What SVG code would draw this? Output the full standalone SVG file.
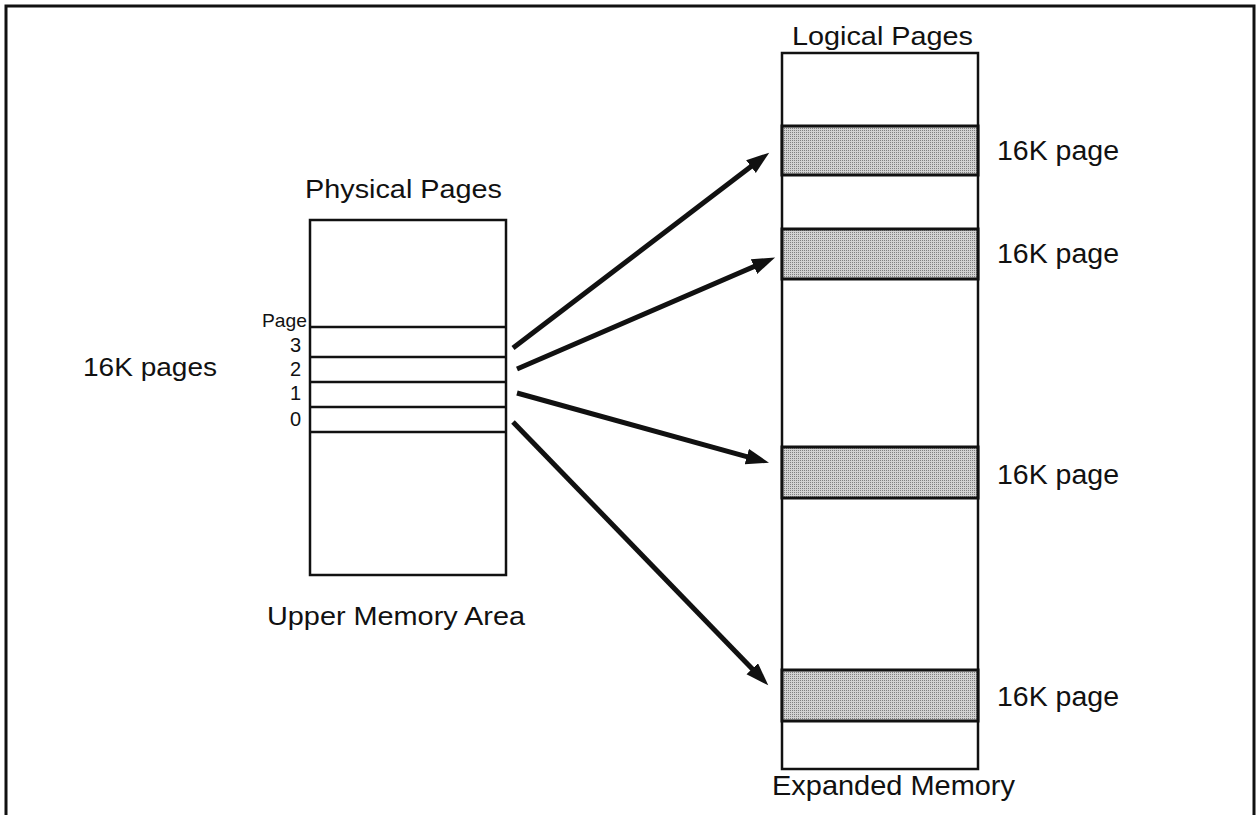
<svg xmlns="http://www.w3.org/2000/svg" width="1259" height="815" viewBox="0 0 1259 815">
<style>
.t{font-family:"Liberation Sans",Arial,sans-serif;fill:#111}
.ln{stroke:#111;stroke-width:2.5;fill:none}
.frame{stroke:#111;stroke-width:3;fill:none}
.box{stroke:#111;stroke-width:2.5;fill:#fff}
.band{stroke:#111;stroke-width:3;fill:url(#stip)}
.arr{stroke:#111;stroke-width:5;fill:none;marker-end:url(#ah)}
</style>
<defs>
<pattern id="stip" width="2" height="2" patternUnits="userSpaceOnUse">
<rect width="2" height="2" fill="#d2d2d2"/>
<rect width="1" height="1" fill="#808080"/>
</pattern>
<marker id="ah" markerUnits="userSpaceOnUse" markerWidth="24" markerHeight="18" refX="12" refY="8" orient="auto">
<path d="M0,0 L23,8 L0,16 z" fill="#111"/>
</marker>
</defs>
<rect width="1259" height="815" fill="#fff"/>
<rect x="6" y="6" width="1248" height="830" class="frame"/>

<g id="physical">
<rect x="310" y="220" width="196" height="355" class="box"/>
<line x1="310" y1="327" x2="506" y2="327" class="ln"/>
<line x1="310" y1="357" x2="506" y2="357" class="ln"/>
<line x1="310" y1="382" x2="506" y2="382" class="ln"/>
<line x1="310" y1="407" x2="506" y2="407" class="ln"/>
<line x1="310" y1="432" x2="506" y2="432" class="ln"/>
<text class="t" x="305" y="198" font-size="26" textLength="197" lengthAdjust="spacingAndGlyphs">Physical Pages</text>
<text class="t" x="267" y="625" font-size="26" textLength="258" lengthAdjust="spacingAndGlyphs">Upper Memory Area</text>
<text class="t" x="262" y="327" font-size="19" textLength="45" lengthAdjust="spacingAndGlyphs">Page</text>
<text class="t" x="301" y="352" font-size="20" text-anchor="end">3</text>
<text class="t" x="301" y="376" font-size="20" text-anchor="end">2</text>
<text class="t" x="301" y="400" font-size="20" text-anchor="end">1</text>
<text class="t" x="301" y="426" font-size="20" text-anchor="end">0</text>
</g>

<g id="label16kpages">
<text class="t" x="83" y="376" font-size="26" textLength="134" lengthAdjust="spacingAndGlyphs">16K pages</text>
</g>

<g id="logical">
<rect x="782" y="53" width="196" height="716" class="box"/>
<rect x="782" y="126" width="196" height="49" class="band"/>
<rect x="782" y="229" width="196" height="50" class="band"/>
<rect x="782" y="447" width="196" height="51" class="band"/>
<rect x="782" y="670" width="196" height="51" class="band"/>
<text class="t" x="792" y="45" font-size="26" textLength="181" lengthAdjust="spacingAndGlyphs">Logical Pages</text>
<text class="t" x="772" y="795" font-size="28" textLength="243" lengthAdjust="spacingAndGlyphs">Expanded Memory</text>
<text class="t" x="997" y="160" font-size="27" textLength="122" lengthAdjust="spacingAndGlyphs">16K page</text>
<text class="t" x="997" y="263" font-size="27" textLength="122" lengthAdjust="spacingAndGlyphs">16K page</text>
<text class="t" x="997" y="484" font-size="27" textLength="122" lengthAdjust="spacingAndGlyphs">16K page</text>
<text class="t" x="997" y="706" font-size="27" textLength="122" lengthAdjust="spacingAndGlyphs">16K page</text>
</g>

<g id="connectors">
<line x1="513" y1="348" x2="760.5" y2="159.3" class="arr"/>
<line x1="517" y1="369" x2="765" y2="261.8" class="arr"/>
<line x1="517" y1="393" x2="758.4" y2="459.8" class="arr"/>
<line x1="513" y1="422" x2="760.6" y2="677.4" class="arr"/>
</g>
</svg>
